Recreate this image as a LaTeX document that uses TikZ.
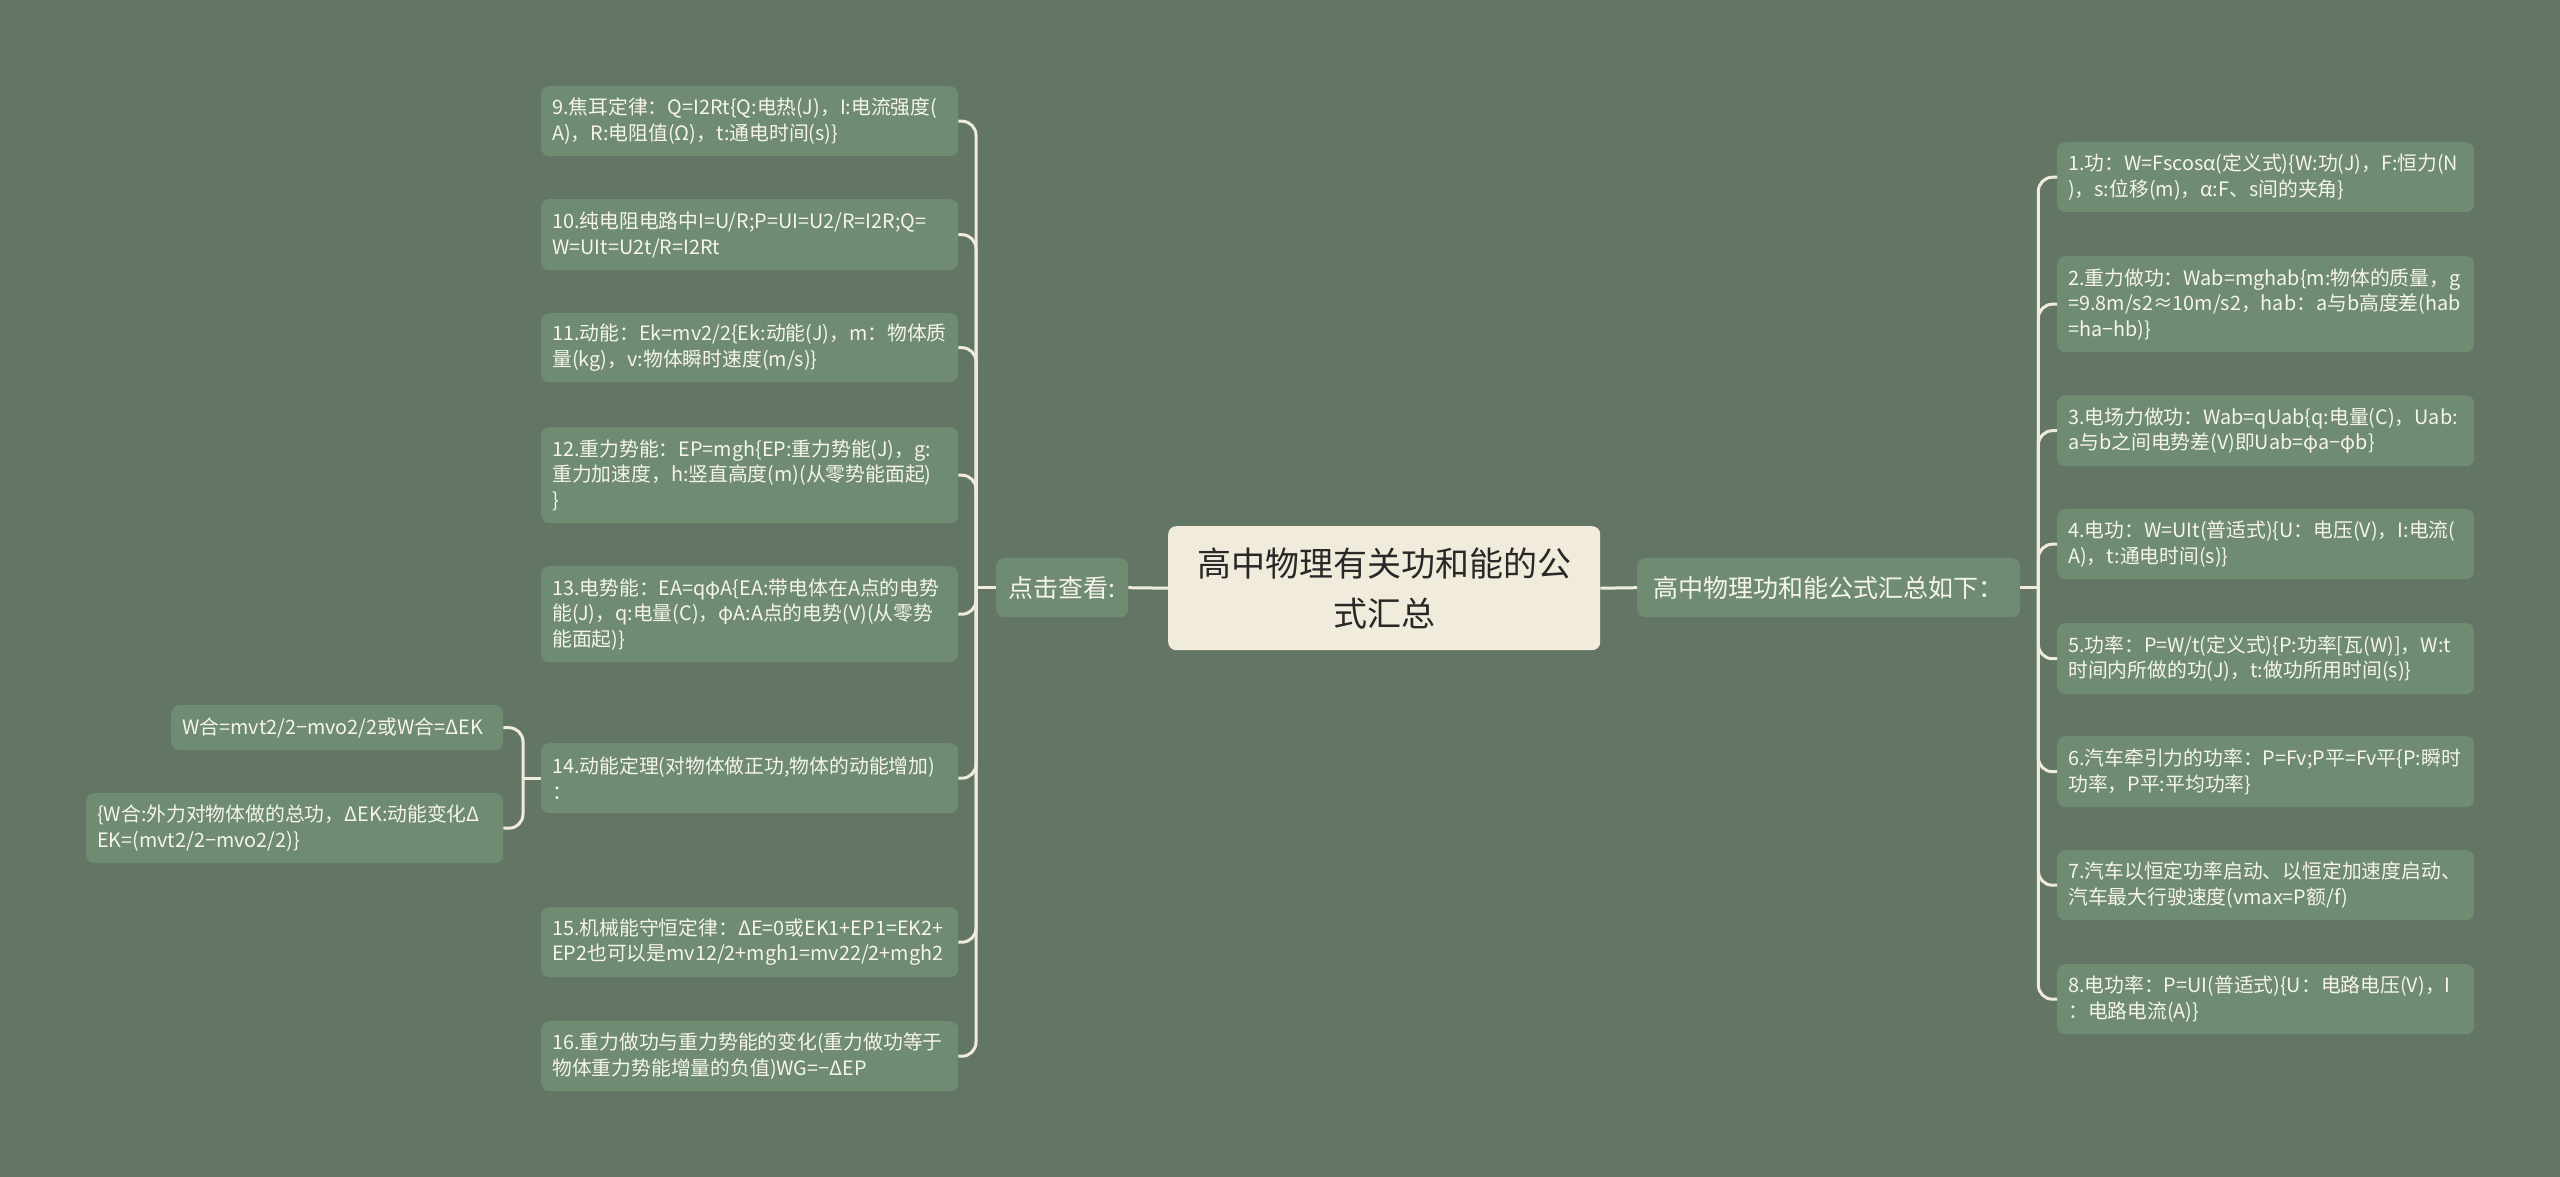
\documentclass[tikz,border=0pt]{standalone}
\usepackage{fontspec}
\setmainfont{Noto Sans CJK SC}
\usetikzlibrary{calc}
\definecolor{bgc}{RGB}{99,117,100}
\definecolor{leafc}{RGB}{111,139,114}
\definecolor{rootc}{RGB}{240,235,218}
\definecolor{linec}{RGB}{240,236,220}
\definecolor{leaftext}{RGB}{246,244,236}
\definecolor{roottext}{RGB}{40,40,40}
\tikzset{
  leaf/.style={fill=leafc, rounded corners=8pt, inner xsep=11pt, inner ysep=0pt,
    align=left, text=leaftext, anchor=north west, text width=395pt,
    font=\fontsize{19.8pt}{25.5pt}\selectfont},
  midnode/.style={fill=leafc, rounded corners=8pt, inner sep=0pt, text=leaftext,
    anchor=north west, font=\fontsize{25pt}{30pt}\selectfont},
  rootnode/.style={fill=rootc, rounded corners=8pt, inner sep=0pt, text=roottext,
    anchor=north west, align=center, text width=432pt, minimum height=124pt,
    font=\fontsize{34pt}{50pt}\selectfont},
  conn/.style={draw=linec, line width=3pt, rounded corners=14pt}
}
\begin{document}
\begin{tikzpicture}[x=1pt,y=-1pt]
\useasboundingbox (0,0) rectangle (2560,1177);
\fill[bgc] (0,0) rectangle (2560,1177);

% root and first level
\node[rootnode] (root) at (1168,526) {高中物理有关功和能的公\\式汇总};
\node[midnode, minimum width=132pt, minimum height=59pt] (L) at (996,558) {点击查看:};
\node[midnode, minimum width=383pt, minimum height=59pt] (R) at (1637,558) {高中物理功和能公式汇总如下：};

% left children
\node[leaf, minimum height=70pt] (c9) at (541,86) {9.焦耳定律：Q=I2Rt\{Q:电热(J)，I:电流强度(\\A)，R:电阻值(Ω)，t:通电时间(s)\}};
\node[leaf, minimum height=71pt] (c10) at (541,199) {10.纯电阻电路中I=U/R;P=UI=U2/R=I2R;Q=\\W=UIt=U2t/R=I2Rt};
\node[leaf, minimum height=69pt] (c11) at (541,313) {11.动能：Ek=mv2/2\{Ek:动能(J)，m：物体质\\量(kg)，v:物体瞬时速度(m/s)\}};
\node[leaf, minimum height=96pt] (c12) at (541,427) {12.重力势能：EP=mgh\{EP:重力势能(J)，g:\\重力加速度，h:竖直高度(m)(从零势能面起)\\\}};
\node[leaf, minimum height=96pt] (c13) at (541,566) {13.电势能：EA=qφA\{EA:带电体在A点的电势\\能(J)，q:电量(C)，φA:A点的电势(V)(从零势\\能面起)\}};
\node[leaf, minimum height=70pt] (c14) at (541,743) {14.动能定理(对物体做正功,物体的动能增加)\\：};
\node[leaf, minimum height=70pt] (c15) at (541,907) {15.机械能守恒定律：ΔE=0或EK1+EP1=EK2+\\EP2也可以是mv12/2+mgh1=mv22/2+mgh2};
\node[leaf, minimum height=70pt] (c16) at (541,1021) {16.重力做功与重力势能的变化(重力做功等于\\物体重力势能增量的负值)WG=−ΔEP};

% grandchildren
\node[leaf, text width=310pt, minimum height=45pt] (g1) at (171,705) {W合=mvt2/2−mvo2/2或W合=ΔEK};
\node[leaf, minimum height=70pt] (g2) at (86,793) {\{W合:外力对物体做的总功，ΔEK:动能变化Δ\\EK=(mvt2/2−mvo2/2)\}};

% right children
\node[leaf, minimum height=70pt] (c1) at (2057,142) {1.功：W=Fscosα(定义式)\{W:功(J)，F:恒力(N\\)，s:位移(m)，α:F、s间的夹角\}};
\node[leaf, minimum height=96pt] (c2) at (2057,256) {2.重力做功：Wab=mghab\{m:物体的质量，g\\=9.8m/s2≈10m/s2，hab：a与b高度差(hab\\=ha−hb)\}};
\node[leaf, minimum height=71pt] (c3) at (2057,395) {3.电场力做功：Wab=qUab\{q:电量(C)，Uab:\\a与b之间电势差(V)即Uab=φa−φb\}};
\node[leaf, minimum height=70pt] (c4) at (2057,509) {4.电功：W=UIt(普适式)\{U：电压(V)，I:电流(\\A)，t:通电时间(s)\}};
\node[leaf, minimum height=71pt] (c5) at (2057,623) {5.功率：P=W/t(定义式)\{P:功率[瓦(W)]，W:t\\时间内所做的功(J)，t:做功所用时间(s)\}};
\node[leaf, minimum height=71pt] (c6) at (2057,736) {6.汽车牵引力的功率：P=Fv;P平=Fv平\{P:瞬时\\功率，P平:平均功率\}};
\node[leaf, minimum height=70pt] (c7) at (2057,850) {7.汽车以恒定功率启动、以恒定加速度启动、\\汽车最大行驶速度(vmax=P额/f)};
\node[leaf, minimum height=70pt] (c8) at (2057,964) {8.电功率：P=UI(普适式)\{U：电路电压(V)，I\\：电路电流(A)\}};

% connectors
\draw[conn] (root.west) -- (L.east);
\draw[conn] (root.east) -- (R.west);

\coordinate (ls) at ($(L.west)+(-20,0)$);
\draw[conn] (L.west) -- (ls);
\foreach \c in {c9,c10,c11,c12,c13,c14,c15,c16}{
  \draw[conn] (ls) |- (\c.east);
}

\coordinate (rs) at ($(R.east)+(18,0)$);
\draw[conn] (R.east) -- (rs);
\foreach \c in {c1,c2,c3,c4,c5,c6,c7,c8}{
  \draw[conn] (rs) |- (\c.west);
}

\coordinate (gs) at ($(c14.west)+(-18,0)$);
\draw[conn] (c14.west) -- (gs);
\foreach \c in {g1,g2}{
  \draw[conn] (gs) |- (\c.east);
}
\end{tikzpicture}
\end{document}
